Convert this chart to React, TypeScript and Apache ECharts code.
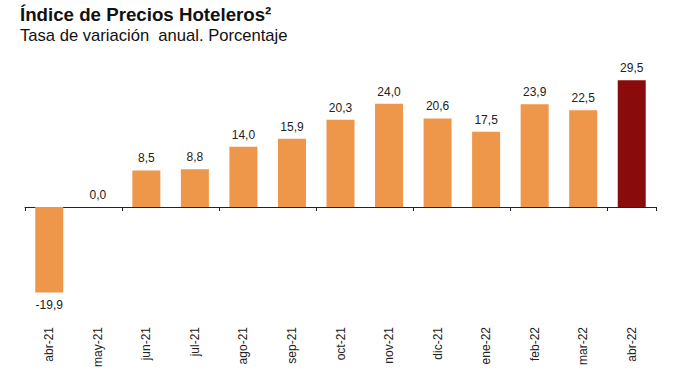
import React, { useEffect, useRef } from "react";
import * as echarts from "echarts";

const categories = ["abr-21","may-21","jun-21","jul-21","ago-21","sep-21","oct-21","nov-21","dic-21","ene-22","feb-22","mar-22","abr-22"];
const values = [-19.9, 0.0, 8.5, 8.8, 14.0, 15.9, 20.3, 24.0, 20.6, 17.5, 23.9, 22.5, 29.5];
const titleText = "Índice de Precios Hoteleros²";
const subtitleText = "Tasa de variación  anual. Porcentaje";

const ORANGE = "#EE9649";
const DARK = "#8A0B0B";

export default function App() {
  const ref = useRef<HTMLDivElement>(null);
  useEffect(() => {
    const chart = echarts.init(ref.current!, null, { renderer: "svg" });
    const font = "Liberation Sans, Arial, sans-serif";
    chart.setOption({
      animation: false,
      textStyle: { fontFamily: font },
      title: [
        { text: titleText, left: 20, top: 5, padding: 0, textStyle: { fontSize: 18.7, fontWeight: "bold", color: "#111", fontFamily: font } },
        { text: subtitleText, left: 20, top: 27, padding: 0, textStyle: { fontSize: 16.6, fontWeight: "normal", color: "#111", fontFamily: font } },
      ],
      grid: { left: 25, right: 32, top: 78, bottom: 98 },
      xAxis: [
        {
          type: "category",
          data: categories,
          axisLine: { onZero: true, lineStyle: { color: "#222", width: 1 } },
          axisTick: { show: true, alignWithLabel: false, length: 4, lineStyle: { color: "#222" } },
          axisLabel: { show: false },
        },
        {
          type: "category",
          data: categories,
          position: "bottom",
          axisLine: { show: false, onZero: false },
          axisTick: { show: false },
          axisLabel: { show: true, rotate: 90, margin: 34, fontSize: 12, color: "#222", fontFamily: font },
        },
      ],
      yAxis: {
        type: "value",
        min: -20,
        max: 30,
        show: false,
        splitLine: { show: false },
      },
      series: [
        {
          type: "bar",
          xAxisIndex: 0,
          barWidth: 28,
          data: values.map((v, i) => ({
            value: v,
            itemStyle: { color: i === values.length - 1 ? DARK : ORANGE },
            label: { position: v < 0 ? "bottom" : "top" },
          })),
          label: {
            show: true,
            distance: 6,
            fontSize: 12,
            color: "#222",
            fontFamily: font,
            formatter: (p: any) => Number(p.value).toFixed(1).replace(".", ","),
          },
        },
      ],
    });
    return () => chart.dispose();
  }, []);
  return <div ref={ref} style={{ width: 688, height: 391, position: "absolute", left: 0, top: 0 }} />;
}
